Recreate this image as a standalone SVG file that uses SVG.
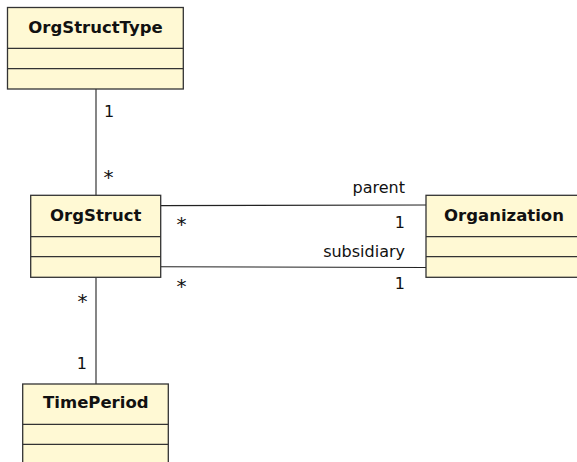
<svg xmlns="http://www.w3.org/2000/svg" width="577" height="462" viewBox="0 0 577 462">
<style>
.box{fill:#FFF9D4;stroke:#333;stroke-width:1.3}
.sep{stroke:#333;stroke-width:1.2}
.title{font-family:"DejaVu Sans",sans-serif;font-weight:bold;font-size:16.5px;fill:#111;text-anchor:middle}
.lbl{font-family:"DejaVu Sans",sans-serif;font-size:16px;fill:#111}
.ast{font-size:20px}
.conn{stroke:#222;stroke-width:1.1;fill:none}
</style>
<rect width="577" height="462" fill="#fff"/>
<g id="connectors">
<line class="conn" x1="96" y1="89" x2="96" y2="195.3"/>
<line class="conn" x1="96" y1="277.3" x2="96" y2="384"/>
<line class="conn" x1="160.7" y1="205.6" x2="426" y2="205"/>
<line class="conn" x1="160.7" y1="266.7" x2="426" y2="267.5"/>
<text class="lbl" x="104" y="117">1</text>
<text class="lbl ast" x="103.5" y="183.7">*</text>
<text class="lbl ast" x="176.5" y="230.7">*</text>
<text class="lbl ast" x="176.5" y="292.7">*</text>
<text class="lbl" x="405" y="193" text-anchor="end">parent</text>
<text class="lbl" x="405" y="228" text-anchor="end">1</text>
<text class="lbl" x="405" y="256.7" text-anchor="end">subsidiary</text>
<text class="lbl" x="405" y="289" text-anchor="end">1</text>
<text class="lbl ast" x="87.5" y="307.7" text-anchor="end">*</text>
<text class="lbl" x="87" y="369" text-anchor="end">1</text>
</g>
<g id="OrgStructType">
<rect class="box" x="7.5" y="7.5" width="175.8" height="81.5"/>
<line class="sep" x1="7.5" y1="48.3" x2="183.3" y2="48.3"/>
<line class="sep" x1="7.5" y1="68.7" x2="183.3" y2="68.7"/>
<text class="title" x="95.5" y="33.3">OrgStructType</text>
</g>
<g id="OrgStruct">
<rect class="box" x="30.7" y="195.3" width="130" height="82"/>
<line class="sep" x1="30.7" y1="236.7" x2="160.7" y2="236.7"/>
<line class="sep" x1="30.7" y1="256.7" x2="160.7" y2="256.7"/>
<text class="title" x="95.7" y="220.7">OrgStruct</text>
</g>
<g id="Organization">
<rect class="box" x="426" y="195.3" width="160" height="82"/>
<line class="sep" x1="426" y1="236.7" x2="586" y2="236.7"/>
<line class="sep" x1="426" y1="256.7" x2="586" y2="256.7"/>
<text class="title" x="504" y="220.7">Organization</text>
</g>
<g id="TimePeriod">
<rect class="box" x="22.7" y="384" width="145.6" height="90"/>
<line class="sep" x1="22.7" y1="424.3" x2="168.3" y2="424.3"/>
<line class="sep" x1="22.7" y1="444.3" x2="168.3" y2="444.3"/>
<text class="title" x="95.8" y="408.3">TimePeriod</text>
</g>
</svg>
